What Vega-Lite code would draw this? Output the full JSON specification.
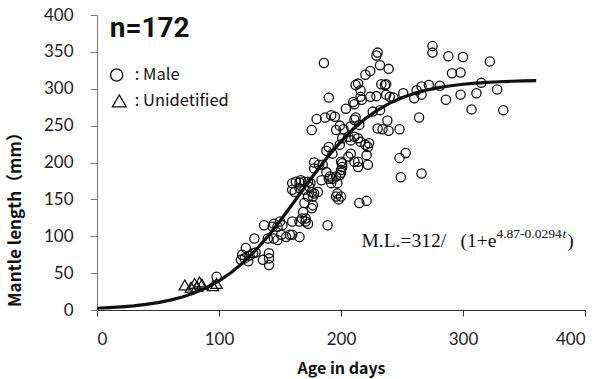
{
  "$schema": "https://vega.github.io/schema/vega-lite/v6.json",
  "width": 488,
  "height": 295,
  "autosize": {"type": "none"},
  "padding": {"left": 97, "top": 15, "right": 29, "bottom": 69},
  "background": "white",
  "config": {"view": {"stroke": null}},
  "datasets": {
    "curve": [
      {"age": 0, "ml": 2.4}, {"age": 10, "ml": 3.2}, {"age": 20, "ml": 4.3}, {"age": 30, "ml": 5.7},
      {"age": 40, "ml": 7.6}, {"age": 50, "ml": 10.1}, {"age": 60, "ml": 13.4}, {"age": 70, "ml": 17.7},
      {"age": 80, "ml": 23.3}, {"age": 90, "ml": 30.5}, {"age": 100, "ml": 39.5}, {"age": 110, "ml": 50.9},
      {"age": 120, "ml": 64.6}, {"age": 130, "ml": 81.0}, {"age": 140, "ml": 99.8}, {"age": 150, "ml": 120.7},
      {"age": 160, "ml": 143.1}, {"age": 170, "ml": 166.0}, {"age": 180, "ml": 188.4}, {"age": 190, "ml": 209.6},
      {"age": 200, "ml": 228.7}, {"age": 210, "ml": 245.4}, {"age": 220, "ml": 259.5}, {"age": 230, "ml": 271.1},
      {"age": 240, "ml": 280.5}, {"age": 250, "ml": 287.9}, {"age": 260, "ml": 293.7}, {"age": 270, "ml": 298.1},
      {"age": 280, "ml": 301.5}, {"age": 290, "ml": 304.1}, {"age": 300, "ml": 306.1}, {"age": 310, "ml": 307.6},
      {"age": 320, "ml": 308.7}, {"age": 330, "ml": 309.5}, {"age": 340, "ml": 310.2}, {"age": 350, "ml": 310.6},
      {"age": 360, "ml": 311.0}
    ],
    "points": [
      {"age": 72, "ml": 34, "sex": "Unidentified"}, {"age": 77, "ml": 31, "sex": "Unidentified"},
      {"age": 80, "ml": 36, "sex": "Unidentified"}, {"age": 82, "ml": 32, "sex": "Unidentified"},
      {"age": 84, "ml": 38, "sex": "Unidentified"}, {"age": 86, "ml": 35, "sex": "Unidentified"},
      {"age": 95, "ml": 33, "sex": "Unidentified"}, {"age": 98, "ml": 36, "sex": "Unidentified"},
      {"age": 98, "ml": 45, "sex": "Male"}, {"age": 118, "ml": 68, "sex": "Male"}, {"age": 119, "ml": 75, "sex": "Male"},
      {"age": 121, "ml": 70, "sex": "Male"}, {"age": 122, "ml": 84, "sex": "Male"}, {"age": 124, "ml": 66, "sex": "Male"},
      {"age": 125, "ml": 74, "sex": "Male"}, {"age": 128, "ml": 77, "sex": "Male"}, {"age": 130, "ml": 78, "sex": "Male"},
      {"age": 129, "ml": 97, "sex": "Male"}, {"age": 136, "ml": 68, "sex": "Male"}, {"age": 137, "ml": 115, "sex": "Male"},
      {"age": 140, "ml": 97, "sex": "Male"}, {"age": 141, "ml": 77, "sex": "Male"}, {"age": 141, "ml": 70, "sex": "Male"},
      {"age": 141, "ml": 61, "sex": "Male"}, {"age": 144, "ml": 113, "sex": "Male"}, {"age": 145, "ml": 97, "sex": "Male"},
      {"age": 145, "ml": 117, "sex": "Male"}, {"age": 148, "ml": 95, "sex": "Male"}, {"age": 148, "ml": 113, "sex": "Male"},
      {"age": 150, "ml": 120, "sex": "Male"}, {"age": 151, "ml": 102, "sex": "Male"}, {"age": 152, "ml": 115, "sex": "Male"},
      {"age": 155, "ml": 99, "sex": "Male"}, {"age": 158, "ml": 102, "sex": "Male"}, {"age": 160, "ml": 102, "sex": "Male"},
      {"age": 160, "ml": 120, "sex": "Male"}, {"age": 166, "ml": 99, "sex": "Male"}, {"age": 166, "ml": 120, "sex": "Male"},
      {"age": 171, "ml": 120, "sex": "Male"}, {"age": 173, "ml": 117, "sex": "Male"}, {"age": 189, "ml": 115, "sex": "Male"},
      {"age": 160, "ml": 163, "sex": "Male"}, {"age": 160, "ml": 172, "sex": "Male"}, {"age": 163, "ml": 174, "sex": "Male"},
      {"age": 166, "ml": 173, "sex": "Male"}, {"age": 167, "ml": 176, "sex": "Male"}, {"age": 162, "ml": 160, "sex": "Male"},
      {"age": 166, "ml": 165, "sex": "Male"}, {"age": 170, "ml": 174, "sex": "Male"}, {"age": 170, "ml": 163, "sex": "Male"},
      {"age": 173, "ml": 174, "sex": "Male"}, {"age": 174, "ml": 167, "sex": "Male"}, {"age": 175, "ml": 172, "sex": "Male"},
      {"age": 176, "ml": 160, "sex": "Male"}, {"age": 173, "ml": 154, "sex": "Male"}, {"age": 178, "ml": 158, "sex": "Male"},
      {"age": 177, "ml": 154, "sex": "Male"}, {"age": 169, "ml": 133, "sex": "Male"}, {"age": 171, "ml": 124, "sex": "Male"},
      {"age": 168, "ml": 124, "sex": "Male"}, {"age": 170, "ml": 145, "sex": "Male"}, {"age": 177, "ml": 142, "sex": "Male"},
      {"age": 176, "ml": 138, "sex": "Male"}, {"age": 181, "ml": 160, "sex": "Male"}, {"age": 178, "ml": 192, "sex": "Male"},
      {"age": 182, "ml": 197, "sex": "Male"}, {"age": 178, "ml": 200, "sex": "Male"}, {"age": 184, "ml": 176, "sex": "Male"},
      {"age": 185, "ml": 197, "sex": "Male"}, {"age": 188, "ml": 187, "sex": "Male"}, {"age": 190, "ml": 178, "sex": "Male"},
      {"age": 191, "ml": 181, "sex": "Male"}, {"age": 192, "ml": 172, "sex": "Male"}, {"age": 196, "ml": 181, "sex": "Male"},
      {"age": 197, "ml": 172, "sex": "Male"}, {"age": 197, "ml": 158, "sex": "Male"}, {"age": 196, "ml": 154, "sex": "Male"},
      {"age": 200, "ml": 154, "sex": "Male"}, {"age": 199, "ml": 183, "sex": "Male"}, {"age": 200, "ml": 186, "sex": "Male"},
      {"age": 200, "ml": 190, "sex": "Male"}, {"age": 201, "ml": 199, "sex": "Male"}, {"age": 193, "ml": 178, "sex": "Male"},
      {"age": 200, "ml": 201, "sex": "Male"}, {"age": 201, "ml": 194, "sex": "Male"}, {"age": 215, "ml": 145, "sex": "Male"},
      {"age": 221, "ml": 148, "sex": "Male"}, {"age": 198, "ml": 150, "sex": "Male"},
      {"age": 176, "ml": 244, "sex": "Male"}, {"age": 180, "ml": 259, "sex": "Male"}, {"age": 187, "ml": 261, "sex": "Male"},
      {"age": 192, "ml": 264, "sex": "Male"}, {"age": 195, "ml": 262, "sex": "Male"}, {"age": 186, "ml": 335, "sex": "Male"},
      {"age": 190, "ml": 288, "sex": "Male"}, {"age": 196, "ml": 244, "sex": "Male"}, {"age": 199, "ml": 250, "sex": "Male"},
      {"age": 202, "ml": 245, "sex": "Male"}, {"age": 204, "ml": 273, "sex": "Male"}, {"age": 208, "ml": 249, "sex": "Male"},
      {"age": 211, "ml": 258, "sex": "Male"}, {"age": 212, "ml": 261, "sex": "Male"}, {"age": 215, "ml": 251, "sex": "Male"},
      {"age": 201, "ml": 233, "sex": "Male"}, {"age": 206, "ml": 235, "sex": "Male"}, {"age": 208, "ml": 230, "sex": "Male"},
      {"age": 211, "ml": 235, "sex": "Male"}, {"age": 214, "ml": 233, "sex": "Male"}, {"age": 216, "ml": 228, "sex": "Male"},
      {"age": 220, "ml": 224, "sex": "Male"}, {"age": 222, "ml": 221, "sex": "Male"}, {"age": 223, "ml": 226, "sex": "Male"},
      {"age": 190, "ml": 221, "sex": "Male"}, {"age": 188, "ml": 216, "sex": "Male"}, {"age": 193, "ml": 212, "sex": "Male"},
      {"age": 199, "ml": 224, "sex": "Male"}, {"age": 208, "ml": 212, "sex": "Male"}, {"age": 206, "ml": 208, "sex": "Male"},
      {"age": 211, "ml": 201, "sex": "Male"}, {"age": 214, "ml": 194, "sex": "Male"}, {"age": 214, "ml": 201, "sex": "Male"},
      {"age": 222, "ml": 197, "sex": "Male"}, {"age": 221, "ml": 210, "sex": "Male"}, {"age": 210, "ml": 282, "sex": "Male"},
      {"age": 211, "ml": 279, "sex": "Male"}, {"age": 212, "ml": 305, "sex": "Male"}, {"age": 214, "ml": 307, "sex": "Male"},
      {"age": 216, "ml": 298, "sex": "Male"}, {"age": 216, "ml": 289, "sex": "Male"}, {"age": 217, "ml": 285, "sex": "Male"},
      {"age": 220, "ml": 319, "sex": "Male"}, {"age": 224, "ml": 324, "sex": "Male"}, {"age": 224, "ml": 289, "sex": "Male"},
      {"age": 229, "ml": 290, "sex": "Male"}, {"age": 230, "ml": 349, "sex": "Male"}, {"age": 229, "ml": 345, "sex": "Male"},
      {"age": 232, "ml": 332, "sex": "Male"}, {"age": 239, "ml": 327, "sex": "Male"}, {"age": 233, "ml": 306, "sex": "Male"},
      {"age": 236, "ml": 305, "sex": "Male"}, {"age": 237, "ml": 306, "sex": "Male"}, {"age": 226, "ml": 269, "sex": "Male"},
      {"age": 232, "ml": 271, "sex": "Male"}, {"age": 230, "ml": 246, "sex": "Male"}, {"age": 234, "ml": 245, "sex": "Male"},
      {"age": 239, "ml": 243, "sex": "Male"}, {"age": 238, "ml": 257, "sex": "Male"}, {"age": 237, "ml": 292, "sex": "Male"},
      {"age": 240, "ml": 289, "sex": "Male"}, {"age": 243, "ml": 288, "sex": "Male"}, {"age": 248, "ml": 245, "sex": "Male"},
      {"age": 251, "ml": 294, "sex": "Male"}, {"age": 253, "ml": 213, "sex": "Male"}, {"age": 248, "ml": 206, "sex": "Male"},
      {"age": 249, "ml": 180, "sex": "Male"}, {"age": 262, "ml": 298, "sex": "Male"}, {"age": 266, "ml": 303, "sex": "Male"},
      {"age": 272, "ml": 305, "sex": "Male"}, {"age": 281, "ml": 304, "sex": "Male"}, {"age": 260, "ml": 287, "sex": "Male"},
      {"age": 266, "ml": 292, "sex": "Male"}, {"age": 264, "ml": 261, "sex": "Male"}, {"age": 266, "ml": 185, "sex": "Male"},
      {"age": 275, "ml": 358, "sex": "Male"}, {"age": 275, "ml": 349, "sex": "Male"}, {"age": 288, "ml": 344, "sex": "Male"},
      {"age": 300, "ml": 343, "sex": "Male"}, {"age": 322, "ml": 337, "sex": "Male"}, {"age": 291, "ml": 321, "sex": "Male"},
      {"age": 298, "ml": 322, "sex": "Male"}, {"age": 315, "ml": 308, "sex": "Male"}, {"age": 286, "ml": 285, "sex": "Male"},
      {"age": 298, "ml": 292, "sex": "Male"}, {"age": 311, "ml": 294, "sex": "Male"}, {"age": 328, "ml": 299, "sex": "Male"},
      {"age": 307, "ml": 272, "sex": "Male"}, {"age": 333, "ml": 271, "sex": "Male"}
    ]
  },
  "encoding": {
    "x": {
      "field": "age", "type": "quantitative",
      "scale": {"domain": [0, 400], "nice": false},
      "axis": {
        "title": "Age in days", "values": [0, 100, 200, 300, 400], "grid": false,
        "domainColor": "#333", "tickColor": "#333", "tickSize": 6, "labelPadding": 15,
        "labelFont": "Lato", "labelFontSize": 17, "labelColor": "#222",
        "titleFont": "Noto Sans CJK JP", "titleFontWeight": "bold", "titleFontSize": 16, "titleColor": "#111",
        "titlePadding": 13
      }
    },
    "y": {
      "field": "ml", "type": "quantitative",
      "scale": {"domain": [0, 400], "nice": false},
      "axis": {
        "title": "Mantle length（mm）", "values": [0, 50, 100, 150, 200, 250, 300, 350, 400], "grid": false,
        "domainColor": "#777", "tickColor": "#777", "tickSize": 7, "labelPadding": 17,
        "labelFont": "Lato", "labelFontSize": 17, "labelColor": "#222",
        "titleFont": "Noto Sans CJK JP", "titleFontWeight": "bold", "titleFontSize": 17, "titleColor": "#111",
        "titleX": -82, "titleY": 200, "titleAngle": 270, "titleAlign": "center", "titleBaseline": "middle"
      }
    }
  },
  "layer": [
    {
      "data": {"name": "curve"},
      "mark": {"type": "line", "color": "#111", "strokeWidth": 3.2},
      "encoding": {}
    },
    {
      "data": {"name": "points"},
      "mark": {"type": "point", "filled": false, "stroke": "#111", "strokeWidth": 1.3, "opacity": 1},
      "encoding": {
        "shape": {"field": "sex", "type": "nominal", "scale": {"domain": ["Male", "Unidentified"], "range": ["circle", "triangle-up"]}, "legend": null},
        "size": {"field": "sex", "type": "nominal", "scale": {"domain": ["Male", "Unidentified"], "range": [85, 130]}, "legend": null}
      }
    },
    {
      "data": {"values": [{"age": 16.1, "ml": 318.6}]},
      "mark": {"type": "point", "shape": "circle", "filled": false, "stroke": "#111", "strokeWidth": 1.4, "size": 150, "opacity": 1},
      "encoding": {}
    },
    {
      "data": {"values": [{"age": 18.3, "ml": 283.4}]},
      "mark": {"type": "point", "shape": "triangle-up", "filled": false, "stroke": "#111", "strokeWidth": 1.3, "size": 190, "opacity": 1},
      "encoding": {}
    },
    {
      "data": {"values": [{"age": 10.4, "ml": 381, "label": "n=172"}]},
      "mark": {"type": "text", "font": "Roboto", "fontWeight": "bold", "fontSize": 28, "align": "left", "baseline": "middle", "color": "#111"},
      "encoding": {"text": {"field": "label"}}
    },
    {
      "data": {"values": [{"age": 31.0, "ml": 319, "label": ": Male"}, {"age": 31.0, "ml": 283, "label": ": Unidetified"}]},
      "mark": {"type": "text", "font": "Noto Sans CJK JP", "fontSize": 16.5, "align": "left", "baseline": "middle", "color": "#111"},
      "encoding": {"text": {"field": "label"}}
    },
    {
      "data": {"values": [{"age": 216.8, "ml": 85.4, "label": "M.L.=312/"}]},
      "mark": {"type": "text", "font": "Liberation Serif", "fontSize": 19.5, "align": "left", "baseline": "alphabetic", "color": "#111"},
      "encoding": {"text": {"field": "label"}}
    },
    {
      "data": {"values": [{"age": 327.4, "ml": 85.4, "label": "(1+e"}]},
      "mark": {"type": "text", "font": "Liberation Serif", "fontSize": 19.5, "align": "right", "baseline": "alphabetic", "color": "#111"},
      "encoding": {"text": {"field": "label"}}
    },
    {
      "data": {"values": [{"age": 327.4, "ml": 97.6, "label": "4.87-0.0294"}]},
      "mark": {"type": "text", "font": "Liberation Serif", "fontSize": 13.5, "align": "left", "baseline": "alphabetic", "color": "#111"},
      "encoding": {"text": {"field": "label"}}
    },
    {
      "data": {"values": [{"age": 381.5, "ml": 97.6, "label": "t"}]},
      "mark": {"type": "text", "font": "Liberation Serif", "fontStyle": "italic", "fontSize": 13.5, "align": "left", "baseline": "alphabetic", "color": "#111"},
      "encoding": {"text": {"field": "label"}}
    },
    {
      "data": {"values": [{"age": 385.5, "ml": 85.4, "label": ")"}]},
      "mark": {"type": "text", "font": "Liberation Serif", "fontSize": 19.5, "align": "left", "baseline": "alphabetic", "color": "#111"},
      "encoding": {"text": {"field": "label"}}
    }
  ]
}
